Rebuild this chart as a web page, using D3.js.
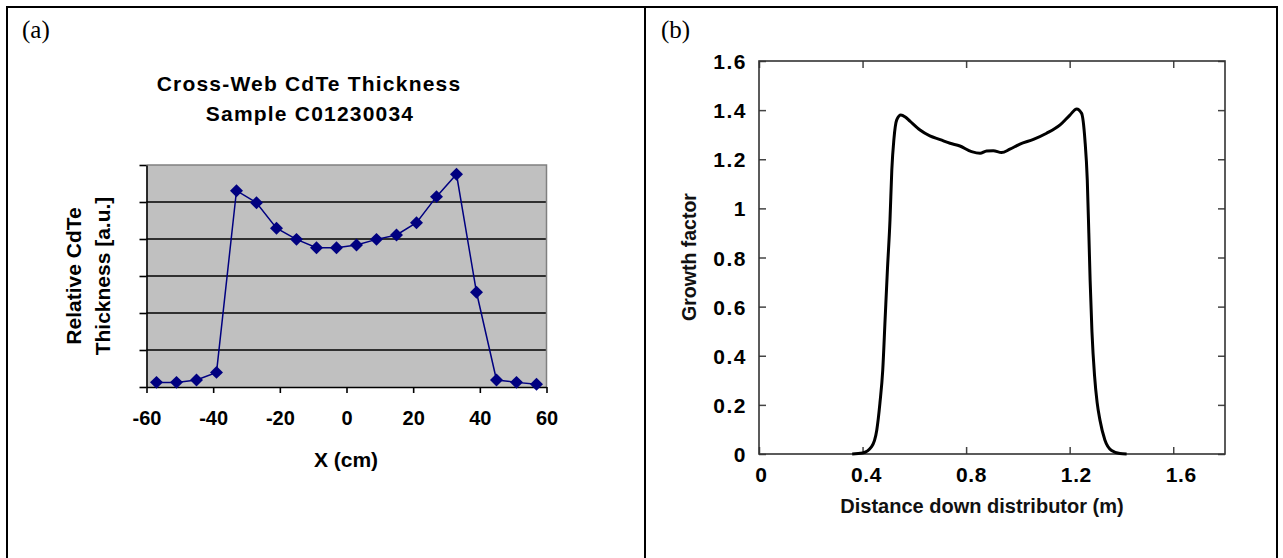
<!DOCTYPE html>
<html>
<head>
<meta charset="utf-8">
<script src="https://cdn.jsdelivr.net/npm/d3@7"></script>
<style>
  body { margin: 0; background: #fff; }
  svg { display: block; }
  text { font-family: "Liberation Sans", Arial, Helvetica, sans-serif; }
</style>
</head>
<body>
<svg id="fig" width="1283" height="558"></svg>
<script>
// ---- Panel (a): cross-web CdTe thickness, sample C01230034 ----
const webX = [-57, -51, -45, -39, -33, -27, -21, -15, -9, -3, 3, 9, 15, 21, 27, 33, 39, 45, 51, 57];
const webThickness = [0.025, 0.025, 0.038, 0.079, 1.061, 0.996, 0.858, 0.798, 0.753, 0.753,
                      0.768, 0.798, 0.822, 0.888, 1.029, 1.150, 0.512, 0.038, 0.025, 0.015];
const webXTicks = [-60, -40, -20, 0, 20, 40, 60];
const webYTicks = [0, 0.2, 0.4, 0.6, 0.8, 1.0, 1.2];

// ---- Panel (b): growth factor along the distributor ----
const distX = [0.36, 0.40, 0.435, 0.455, 0.467, 0.478, 0.487, 0.496, 0.506, 0.513, 0.521, 0.532,
               0.548, 0.565, 0.583, 0.622, 0.660, 0.700, 0.738, 0.776, 0.821, 0.854, 0.879, 0.905,
               0.937, 0.969, 1.008, 1.060, 1.111, 1.163, 1.201, 1.227, 1.246, 1.259, 1.268, 1.274,
               1.279, 1.286, 1.296, 1.306, 1.317, 1.336, 1.362, 1.394, 1.42];
const growth = [0, 0.004, 0.03, 0.098, 0.206, 0.342, 0.546, 0.749, 0.953, 1.156, 1.28, 1.36,
                1.38, 1.372, 1.355, 1.319, 1.295, 1.280, 1.265, 1.254, 1.231, 1.224, 1.234, 1.235,
                1.227, 1.241, 1.262, 1.281, 1.306, 1.340, 1.380, 1.405, 1.387, 1.278, 1.116, 0.90,
                0.708, 0.50, 0.32, 0.21, 0.138, 0.057, 0.014, 0.002, 0];
const distXTicks = [0, 0.4, 0.8, 1.2, 1.6];
const growthYTicks = [0, 0.2, 0.4, 0.6, 0.8, 1.0, 1.2, 1.4, 1.6];

const svg = d3.select("#fig");

// Figure frame: two cells side by side
svg.append("rect")
  .attr("x", 7).attr("y", 7).attr("width", 1270).attr("height", 580)
  .attr("fill", "none").attr("stroke", "#000").attr("stroke-width", 2);
svg.append("line")
  .attr("x1", 645).attr("x2", 645).attr("y1", 7).attr("y2", 558)
  .attr("stroke", "#000").attr("stroke-width", 2);

svg.append("text").attr("x", 22).attr("y", 38)
  .style("font-family", "'Liberation Serif', 'Times New Roman', serif")
  .style("font-size", "25px").text("(a)");
svg.append("text").attr("x", 661).attr("y", 38)
  .style("font-family", "'Liberation Serif', 'Times New Roman', serif")
  .style("font-size", "25px").text("(b)");

// ================= Panel (a) =================
const xA = d3.scaleLinear().domain([-60, 60]).range([146.5, 546.5]);
const yA = d3.scaleLinear().domain([0, 1.2]).range([387, 165]);
const gA = svg.append("g");

gA.append("rect")
  .attr("x", xA(-60)).attr("y", yA(1.2))
  .attr("width", xA(60) - xA(-60)).attr("height", yA(0) - yA(1.2))
  .attr("fill", "#c0c0c0");

// horizontal gridlines
gA.append("g").selectAll("line")
  .data(webYTicks.filter(v => v > 0 && v < 1.2))
  .join("line")
  .attr("x1", xA(-60)).attr("x2", xA(60))
  .attr("y1", d => yA(d)).attr("y2", d => yA(d))
  .attr("stroke", "#000").attr("stroke-width", 1.6);

// plot-area edge on top and right
gA.append("path")
  .attr("d", `M${xA(-60)},${yA(1.2)}H${xA(60)}V${yA(0)}`)
  .attr("fill", "none").attr("stroke", "#808080").attr("stroke-width", 1.5);

const axLeftA = gA.append("g").attr("transform", `translate(${xA(-60)},0)`)
  .call(d3.axisLeft(yA).tickValues(webYTicks).tickFormat("").tickSize(7).tickSizeOuter(0));
axLeftA.selectAll("path, line").attr("stroke", "#000").attr("stroke-width", 1.6);

const axBottomA = gA.append("g").attr("transform", `translate(0,${yA(0)})`)
  .call(d3.axisBottom(xA).tickValues(webXTicks).tickSize(6).tickSizeOuter(0)
        .tickFormat(d => String(d)));
axBottomA.selectAll("path, line").attr("stroke", "#000").attr("stroke-width", 1.6);
axBottomA.selectAll("text")
  .attr("y", 38).attr("dy", 0)
  .style("font-size", "20px").style("font-weight", "bold").attr("fill", "#000");

gA.append("path")
  .datum(webX.map((x, i) => [x, webThickness[i]]))
  .attr("d", d3.line().x(d => xA(d[0])).y(d => yA(d[1])))
  .attr("fill", "none").attr("stroke", "#000080").attr("stroke-width", 1.5);

gA.append("g").selectAll("path")
  .data(webX.map((x, i) => [x, webThickness[i]]))
  .join("path")
  .attr("d", d3.symbol(d3.symbolSquare, 84))
  .attr("transform", d => `translate(${xA(d[0])},${yA(d[1])}) rotate(45)`)
  .attr("fill", "#000080");

// titles
const titleA = gA.append("text").attr("text-anchor", "middle")
  .style("font-size", "21px").style("font-weight", "bold").style("letter-spacing", "1.2px");
titleA.append("tspan").attr("x", 309).attr("y", 91).text("Cross-Web CdTe Thickness");
titleA.append("tspan").attr("x", 310).attr("y", 121).text("Sample C01230034");

gA.append("text").attr("x", 346).attr("y", 467).attr("text-anchor", "middle")
  .style("font-size", "21px").style("font-weight", "bold").text("X (cm)");

const ylabA = gA.append("text").attr("transform", "translate(0,276) rotate(-90)")
  .attr("text-anchor", "middle").style("font-size", "21px").style("font-weight", "bold");
ylabA.append("tspan").attr("x", 0).attr("y", 81).text("Relative CdTe");
ylabA.append("tspan").attr("x", 0).attr("y", 110).text("Thickness [a.u.]");

// ================= Panel (b) =================
const xB = d3.scaleLinear().domain([0, 1.8]).range([759, 1225]);
const yB = d3.scaleLinear().domain([0, 1.6]).range([454, 61]);
const gB = svg.append("g");

const axBottomB = gB.append("g").attr("transform", `translate(0,${yB(0)})`)
  .call(d3.axisBottom(xB).tickValues(distXTicks).tickSize(-7).tickSizeOuter(0)
        .tickFormat(d3.format("~g")));
axBottomB.select(".domain").remove();
axBottomB.selectAll("line").attr("stroke", "#444").attr("stroke-width", 1.5);
axBottomB.selectAll("text").attr("y", 28).attr("dy", 0).attr("dx", (d, i) => 2 + i * 1.4)
  .style("font-size", "21px").style("font-weight", "bold")
  .style("letter-spacing", "0.6px").attr("fill", "#000");

const axTopB = gB.append("g").attr("transform", `translate(0,${yB(1.6)})`)
  .call(d3.axisTop(xB).tickValues(distXTicks).tickSize(-7).tickSizeOuter(0).tickFormat(""));
axTopB.select(".domain").remove();
axTopB.selectAll("line").attr("stroke", "#444").attr("stroke-width", 1.5);

const axLeftB = gB.append("g").attr("transform", `translate(${xB(0)},0)`)
  .call(d3.axisLeft(yB).tickValues(growthYTicks).tickSize(-7).tickSizeOuter(0)
        .tickFormat(d3.format("~g")));
axLeftB.select(".domain").remove();
axLeftB.selectAll("line").attr("stroke", "#444").attr("stroke-width", 1.5);
axLeftB.selectAll("text").attr("x", -12).attr("dy", "0.36em")
  .style("font-size", "21px").style("font-weight", "bold")
  .style("letter-spacing", "1.5px").attr("fill", "#000");

const axRightB = gB.append("g").attr("transform", `translate(${xB(1.8)},0)`)
  .call(d3.axisRight(yB).tickValues(growthYTicks).tickSize(-7).tickSizeOuter(0).tickFormat(""));
axRightB.select(".domain").remove();
axRightB.selectAll("line").attr("stroke", "#444").attr("stroke-width", 1.5);

gB.append("rect")
  .attr("x", xB(0)).attr("y", yB(1.6))
  .attr("width", xB(1.8) - xB(0)).attr("height", yB(0) - yB(1.6))
  .attr("fill", "none").attr("stroke", "#333").attr("stroke-width", 1.6);

gB.append("path")
  .datum(distX.map((x, i) => [x, growth[i]]))
  .attr("d", d3.line().x(d => xB(d[0])).y(d => yB(d[1])).curve(d3.curveMonotoneX))
  .attr("fill", "none").attr("stroke", "#000").attr("stroke-width", 3)
  .attr("stroke-linejoin", "round");

gB.append("text").attr("x", 982).attr("y", 513).attr("text-anchor", "middle")
  .style("font-size", "20px").style("font-weight", "bold").attr("fill", "#111")
  .text("Distance down distributor (m)");

gB.append("text").attr("transform", "translate(696,257) rotate(-90)")
  .attr("text-anchor", "middle")
  .style("font-size", "19.5px").style("font-weight", "bold").attr("fill", "#111")
  .text("Growth factor");
</script>
</body>
</html>
